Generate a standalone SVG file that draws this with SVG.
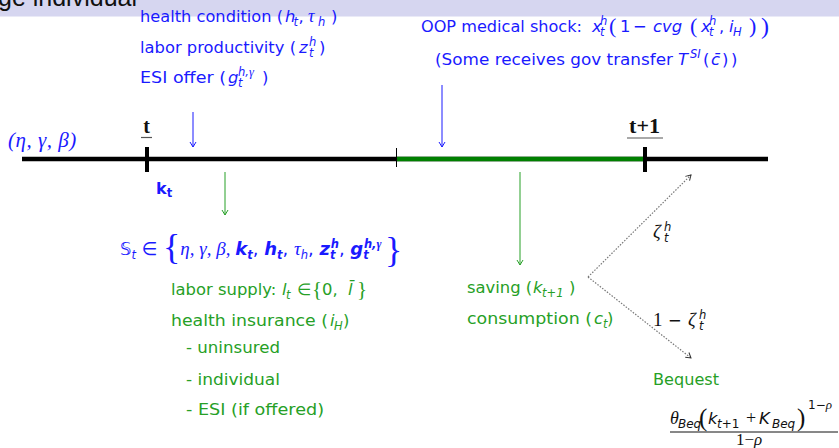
<svg xmlns="http://www.w3.org/2000/svg" width="839" height="448" viewBox="0 0 839 448">
<style>
text{font-family:"DejaVu Sans",sans-serif;font-size:16.4px;}
.ser{font-family:"Liberation Serif","Times New Roman",serif;}
.blue{fill:#1a1aff;}
.green{fill:#26a026;}
.black{fill:#111;}
.it{font-style:italic;}
.b{font-weight:bold;}
.sm{font-size:11.5px;}
.arrB{stroke:#1a1aff;stroke-width:1;fill:none;}
.arrG{stroke:#26a026;stroke-width:1;fill:none;}
.dot{stroke:#777;stroke-width:1.2;stroke-dasharray:1.5 1.5;fill:none;}
</style>
<defs>
<marker id="mb" markerWidth="8" markerHeight="8" refX="6" refY="4" orient="auto" markerUnits="userSpaceOnUse"><path d="M1,1 L6,4 L1,7" fill="none" stroke="#1a1aff" stroke-width="1"/></marker>
<marker id="mg" markerWidth="8" markerHeight="8" refX="6" refY="4" orient="auto" markerUnits="userSpaceOnUse"><path d="M1,1 L6,4 L1,7" fill="none" stroke="#26a026" stroke-width="1"/></marker>
<marker id="mk" markerWidth="8" markerHeight="8" refX="6" refY="4" orient="auto" markerUnits="userSpaceOnUse"><path d="M1,1 L6,4 L1,7" fill="none" stroke="#333" stroke-width="1"/></marker>
</defs>

<g id="banner">
<rect x="0" y="0" width="839" height="16.5" fill="#d6d6f0"/>
<text x="-2" y="6" style="font-family:'Liberation Sans',Arial,sans-serif;font-size:25px" fill="#111">ge individual</text>
</g>

<g id="timeline">
<line x1="22" y1="159" x2="768" y2="159" stroke="#000" stroke-width="4.5"/>
<line x1="397" y1="159" x2="645" y2="159" stroke="#008000" stroke-width="4.5"/>
<line x1="396.5" y1="148" x2="396.5" y2="167" stroke="#000" stroke-width="1"/>
<line x1="147" y1="147" x2="147" y2="172" stroke="#000" stroke-width="4"/>
<line x1="645" y1="147" x2="645" y2="172" stroke="#000" stroke-width="4"/>
</g>

<g id="label-t">
<text x="146.5" y="133" class="ser b black" style="font-size:20px" text-anchor="middle">t</text>
<line x1="141" y1="137.5" x2="152" y2="137.5" stroke="#555" stroke-width="1.2"/>
</g>
<g id="label-t1">
<text x="644.5" y="133" class="ser b black" style="font-size:22px" text-anchor="middle">t+1</text>
<line x1="627" y1="138" x2="663" y2="138" stroke="#555" stroke-width="1.2"/>
</g>

<g id="params">
<text x="8" y="147" class="ser it blue" style="font-size:21px;letter-spacing:0.5px">(η, γ, β)</text>
</g>
<g id="kt">
<text x="156" y="194" class="b blue" style="font-size:16px">k<tspan class="sm" dy="3">t</tspan></text>
</g>

<g id="shocks-top">
<text x="140" y="22" class="blue" textLength="143" lengthAdjust="spacingAndGlyphs">health condition (</text>
<text x="285" y="22" class="blue"><tspan class="it">h</tspan><tspan class="sm it" x="293.5" y="26">t</tspan><tspan x="298.5" y="22">,</tspan><tspan class="ser it" style="font-size:18px" x="308">τ</tspan><tspan class="sm it" x="318" y="26">h</tspan><tspan x="331" y="22">)</tspan></text>
<text x="140" y="53" class="blue" textLength="156" lengthAdjust="spacingAndGlyphs">labor productivity (</text>
<text x="299" y="53" class="blue"><tspan class="it">z</tspan><tspan class="sm it" x="309" y="57">t</tspan><tspan class="sm it" x="309" y="46">h</tspan><tspan x="319" y="53">)</tspan></text>
<text x="140" y="83" class="blue" textLength="86" lengthAdjust="spacingAndGlyphs">ESI offer (</text>
<text x="228" y="83" class="blue"><tspan class="it">g</tspan><tspan class="sm it" x="238" y="87">t</tspan><tspan class="sm it" x="238" y="76">h,</tspan><tspan class="ser it" style="font-size:12.5px">γ</tspan><tspan x="262" y="83">)</tspan></text>
</g>

<g id="oop">
<text x="421" y="32" class="blue" textLength="161" lengthAdjust="spacingAndGlyphs">OOP medical shock:</text>
<text x="592" y="32" class="blue"><tspan class="it">x</tspan><tspan class="sm it" x="600" y="36">t</tspan><tspan class="sm it" x="600" y="25">h</tspan><tspan class="ser" style="font-size:22px" x="609" y="33">(</tspan><tspan x="620" y="32">1</tspan><tspan x="633">−</tspan><tspan class="it" x="653">cvg</tspan><tspan class="ser" style="font-size:22px" x="690" y="33">(</tspan><tspan class="it" x="701" y="32">x</tspan><tspan class="sm it" x="709" y="36">t</tspan><tspan class="sm it" x="709" y="25">h</tspan><tspan x="719" y="32">,</tspan><tspan class="it" x="729">i</tspan><tspan class="sm it" x="733" y="36">H</tspan><tspan class="ser" style="font-size:22px" x="749" y="33">)</tspan><tspan class="ser" style="font-size:24px" x="761" y="34">)</tspan></text>
<text x="435" y="65" class="blue" textLength="238" lengthAdjust="spacingAndGlyphs">(Some receives gov transfer</text>
<text x="678" y="65" class="blue"><tspan class="it">T</tspan><tspan class="sm it" x="690" y="58">SI</tspan><tspan x="703" y="65">(</tspan><tspan class="it" x="711">c̄</tspan><tspan x="722">)</tspan><tspan x="731">)</tspan></text>
</g>

<g id="state">
<text x="120" y="255" class="blue" style="font-size:18px"><tspan>𝕊</tspan><tspan class="sm it" dy="4">t</tspan><tspan dy="-4"> ∈ </tspan><tspan class="ser" style="font-size:36px" dy="4">{</tspan><tspan class="ser it" style="font-size:19px" dy="-4">η, γ, β, </tspan><tspan class="b it">k</tspan><tspan class="sm b it" dy="4">t</tspan><tspan dy="-4">, </tspan><tspan class="b it">h</tspan><tspan class="sm b it" dy="4">t</tspan><tspan dy="-4">, </tspan><tspan class="ser it" style="font-size:19px">τ</tspan><tspan class="sm it" dy="4">h</tspan><tspan dy="-4">, </tspan><tspan class="b it">z</tspan><tspan class="sm b it" dy="4">t</tspan><tspan class="sm b it" dx="-4.8" dy="-11">h</tspan><tspan dy="7">, </tspan><tspan class="b it">g</tspan><tspan class="sm b it" dy="4">t</tspan><tspan class="sm b it" dx="-4.8" dy="-11">h,</tspan><tspan class="ser b it" style="font-size:12px">γ</tspan><tspan class="ser" style="font-size:36px" x="385" y="262">}</tspan></text>
</g>

<g id="choices">
<text x="171" y="295" class="green">labor supply:</text>
<text x="282" y="295" class="green"><tspan class="it">l</tspan><tspan class="sm it" x="286" y="299">t</tspan><tspan x="297" y="295">∈</tspan><tspan class="ser" style="font-size:21px" x="312" y="296">{</tspan><tspan x="322" y="295">0,</tspan><tspan class="it" x="348">l̄</tspan><tspan class="ser" style="font-size:21px" x="357" y="296">}</tspan></text>
<text x="171" y="326" class="green" textLength="157" lengthAdjust="spacingAndGlyphs">health insurance (</text>
<text x="330" y="326" class="green"><tspan class="it">i</tspan><tspan class="sm it" x="334" y="330">H</tspan><tspan x="343" y="326">)</tspan></text>
<text x="186" y="353" class="green" textLength="94" lengthAdjust="spacingAndGlyphs">- uninsured</text>
<text x="186" y="385" class="green" textLength="94" lengthAdjust="spacingAndGlyphs">- individual</text>
<text x="186" y="415" class="green" textLength="138" lengthAdjust="spacingAndGlyphs">- ESI (if offered)</text>
</g>

<g id="saving">
<text x="467" y="293" class="green">saving (</text>
<text x="533" y="293" class="green"><tspan class="it">k</tspan><tspan class="sm it" x="542" y="297">t+1</tspan><tspan x="569" y="293">)</tspan></text>
<text x="467" y="324" class="green" textLength="125" lengthAdjust="spacingAndGlyphs">consumption (</text>
<text x="594" y="324" class="green"><tspan class="it">c</tspan><tspan class="sm it" x="603" y="328">t</tspan><tspan x="607" y="324">)</tspan></text>
</g>

<g id="prob">
<text x="653" y="238" class="black"><tspan class="ser it" style="font-size:19px">ζ</tspan><tspan class="sm it" x="664" y="242">t</tspan><tspan class="sm it" x="664" y="231">h</tspan></text>
<text x="653" y="326" class="black"><tspan class="ser" style="font-size:19px">1</tspan><tspan x="668">−</tspan><tspan class="ser it" style="font-size:19px" x="688">ζ</tspan><tspan class="sm it" x="699" y="330">t</tspan><tspan class="sm it" x="699" y="319">h</tspan></text>
</g>

<g id="bequest">
<text x="653" y="385" class="green" textLength="66" lengthAdjust="spacingAndGlyphs">Bequest</text>
<text x="670" y="424" class="black"><tspan class="ser it" style="font-size:18px">θ</tspan><tspan class="sm it" style="font-size:12px" x="678" y="428">Beq</tspan><tspan class="ser" style="font-size:25px" x="699" y="426">(</tspan><tspan class="it" x="708" y="424">k</tspan><tspan class="sm it" style="font-size:12px" x="717" y="428">t</tspan><tspan class="sm" style="font-size:12px">+1</tspan><tspan class="ser" style="font-size:18px" x="746" y="424">+</tspan><tspan class="it" x="759">K</tspan><tspan class="sm it" style="font-size:12px" x="772" y="428">Beq</tspan><tspan class="ser" style="font-size:25px" x="797" y="426">)</tspan><tspan class="sm" style="font-size:12px" x="808" y="409">1−</tspan><tspan class="ser it" style="font-size:13px">ρ</tspan></text>
<line x1="670" y1="432" x2="838" y2="432" stroke="#111" stroke-width="1"/>
<text x="736" y="445" class="black"><tspan class="ser" style="font-size:17px">1−</tspan><tspan class="ser it" style="font-size:17px">ρ</tspan></text>
</g>

<g id="connectors">
<line x1="193" y1="112" x2="193" y2="147" class="arrB" marker-end="url(#mb)"/>
<line x1="442" y1="85" x2="442" y2="147" class="arrB" marker-end="url(#mb)"/>
<line x1="225" y1="172" x2="225" y2="215" class="arrG" marker-end="url(#mg)"/>
<line x1="520" y1="172" x2="520" y2="265" class="arrG" marker-end="url(#mg)"/>
<line x1="588" y1="277" x2="691" y2="175" class="dot" marker-end="url(#mk)"/>
<line x1="588" y1="277" x2="691" y2="358" class="dot" marker-end="url(#mk)"/>
</g>
</svg>
